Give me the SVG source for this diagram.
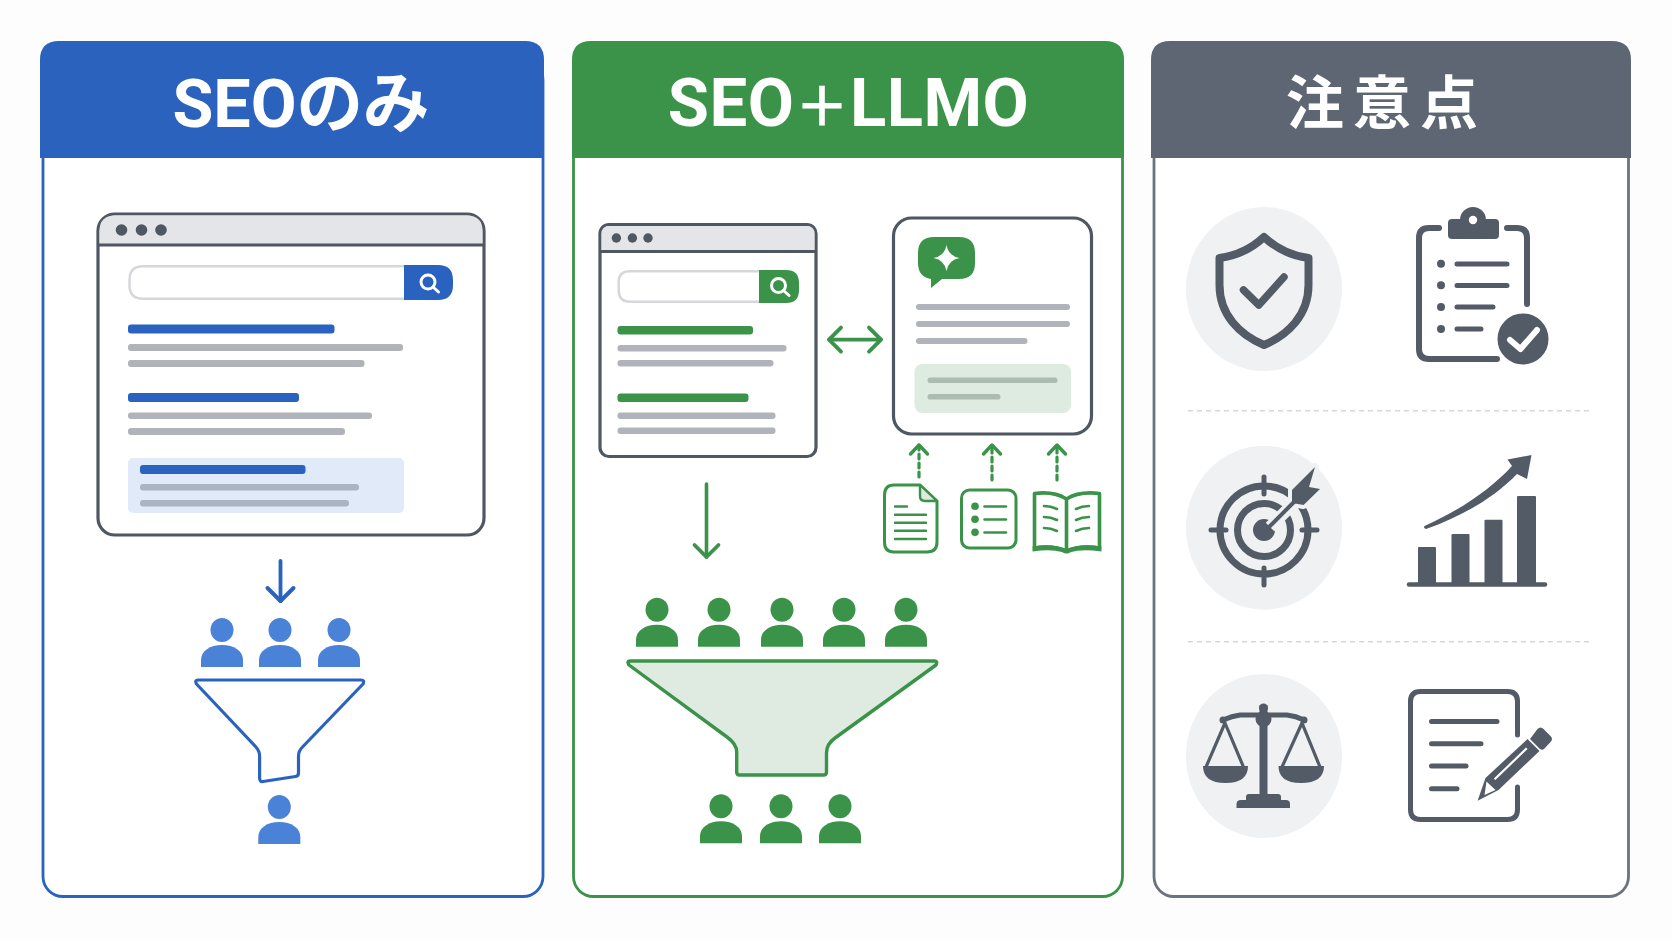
<svg xmlns="http://www.w3.org/2000/svg" xmlns:xlink="http://www.w3.org/1999/xlink" width="1672" height="941" viewBox="0 0 1672 941">
<style>
.title{font-family:Roboto,"Noto Sans CJK JP",sans-serif;font-weight:700;fill:#fff;text-anchor:middle}
.win{fill:#fff;stroke:#4f5762;stroke-width:3.200}
.bar{fill:#e3e5e8}
.dot{fill:#4f5762}
.g{fill:#b0b3b9}
.b{fill:#2a62c0}
.gr{fill:#3a9349}
.pb{fill:#4a82d8}
.pg{fill:#3a9349}
.sb{fill:none;stroke:#d5d7db;stroke-width:2.500}
.lens{fill:none;stroke:#fff;stroke-width:3;stroke-linecap:round}
.ico{fill:none;stroke:#3a9349;stroke-width:3;stroke-linecap:round;stroke-linejoin:round}
.d{fill:#525b66}
.ds{fill:none;stroke:#525b66;stroke-linecap:round;stroke-linejoin:round}
.bg{fill:#f0f1f3}
.sep{stroke:#d6d8db;stroke-width:1.500;stroke-dasharray:5 4;fill:none}
.conn{fill:none;stroke-linecap:round}
</style>
<defs>
<g id="person"><ellipse cx="0" cy="0" rx="11.500" ry="12"/><path d="M-21 37V30C-21 21-12 15 0 15S21 21 21 30V37Z"/></g>
<g id="lens"><circle cx="0" cy="0" r="7" class="lens"/><path d="M5 5L10.500 10" class="lens"/></g>
<marker id="hb" markerUnits="userSpaceOnUse" markerWidth="40" markerHeight="40" refX="20" refY="20" orient="auto-start-reverse" viewBox="0 0 40 40"><path d="M7 7L20 20L7 33" fill="none" stroke="#2a62c0" stroke-width="4" stroke-linecap="round" stroke-linejoin="round"/></marker>
<marker id="hg" markerUnits="userSpaceOnUse" markerWidth="40" markerHeight="40" refX="20" refY="20" orient="auto-start-reverse" viewBox="0 0 40 40"><path d="M8 8L20 20L8 32" fill="none" stroke="#3a9349" stroke-width="3.800" stroke-linecap="round" stroke-linejoin="round"/></marker>
<marker id="hs" markerUnits="userSpaceOnUse" markerWidth="40" markerHeight="40" refX="20" refY="20" orient="auto-start-reverse" viewBox="0 0 40 40"><path d="M11 11.500L20 20L11 28.500" fill="none" stroke="#3a9349" stroke-width="3.400" stroke-linecap="round" stroke-linejoin="round"/></marker>
</defs>
<rect width="1672" height="941" fill="#fdfdfd"/>

<g id="panel-seo">
<rect x="43" y="60" width="500" height="836.500" rx="20" fill="#fff" stroke="#2a62c0" stroke-width="2.800"/>
<path d="M40 158V60Q40 41 59 41H525Q544 41 544 60V158Z" fill="#2b62be"/>
<text class="title" x="301" y="127" font-size="66.500">SEOのみ</text>
</g>
<g id="browser-seo">
<rect class="win" x="98" y="214" width="386" height="321" rx="17"/>
<path class="bar" d="M99.500 244V231Q99.500 215.500 115 215.500H467Q482.500 215.500 482.500 231V244Z"/>
<path d="M98 245H484" stroke="#4f5762" stroke-width="3.200"/>
<circle class="dot" cx="121.500" cy="230" r="5.800"/><circle class="dot" cx="141.500" cy="230" r="5.800"/><circle class="dot" cx="161" cy="230" r="5.800"/>
<path class="sb" d="M405 266.300H143Q129.500 266.300 129.500 280V285Q129.500 298.800 143 298.800H405"/>
<path class="b" d="M404 265H438Q453 265 453 280V285Q453 300 438 300H404Z"/>
<use href="#lens" x="428" y="282"/>
<rect class="b" x="128" y="324.500" width="206.500" height="9" rx="3"/>
<rect class="g" x="128" y="344" width="275" height="7" rx="3"/>
<rect class="g" x="128" y="360" width="236.500" height="7" rx="3"/>
<rect class="b" x="128" y="393" width="171" height="9" rx="3"/>
<rect class="g" x="128" y="412.500" width="244" height="6.500" rx="3"/>
<rect class="g" x="128" y="428" width="217" height="7" rx="3"/>
<rect x="128" y="458" width="276" height="55" rx="5" fill="#e1eaf8"/>
<rect class="b" x="140" y="465" width="165.500" height="9" rx="3"/>
<rect x="140" y="484" width="219" height="6.500" rx="3" fill="#abb4c2"/>
<rect x="140" y="500" width="209" height="6.500" rx="3" fill="#abb4c2"/>
</g>
<g id="people-seo-top" class="pb"><use href="#person" x="222" y="630"/><use href="#person" x="280" y="630"/><use href="#person" x="339" y="630"/></g>
<g id="funnel-seo"><path d="M198 680H361Q365 680 363 684L302.500 747Q298.500 751 298.500 756V773Q298.500 776 295.500 776.500L263 781.500Q259.600 782 259.600 778V756Q259.600 751 255.500 746.500L196.500 684Q194.500 680 198 680Z" fill="#fff" stroke="#2a62c0" stroke-width="3.200" stroke-linejoin="round"/></g>
<g id="person-seo-bottom" class="pb"><use href="#person" x="279.300" y="807"/></g>

<g id="panel-llmo">
<rect x="573.500" y="60" width="549" height="836.500" rx="20" fill="#fff" stroke="#3a9349" stroke-width="2.800"/>
<path d="M572 158V60Q572 41 591 41H1105Q1124 41 1124 60V158Z" fill="#3a9349"/>
<text class="title" x="848.500" y="126" font-size="67" letter-spacing="0.500">SEO<tspan font-size="55">＋</tspan>LLMO</text>
</g>
<g id="browser-llmo">
<rect class="win" x="600" y="224.500" width="216" height="232" rx="9"/>
<path class="bar" d="M601.500 250.500V234Q601.500 226 609.500 226H806.500Q814.500 226 814.500 234V250.500Z"/>
<path d="M600 251.500H816" stroke="#4f5762" stroke-width="3.200"/>
<circle class="dot" cx="616.400" cy="238" r="4.700"/><circle class="dot" cx="632.400" cy="238" r="4.700"/><circle class="dot" cx="648" cy="238" r="4.700"/>
<path class="sb" d="M760 271.300H630Q618.700 271.300 618.700 282V290Q618.700 301.700 630 301.700H760"/>
<path class="gr" d="M759 270H786Q799 270 799 283V290Q799 303 786 303H759Z"/>
<use href="#lens" x="778.500" y="285.500"/>
<rect class="gr" x="617.500" y="326" width="135.500" height="8.500" rx="3"/>
<rect class="g" x="617.500" y="345" width="169" height="6.500" rx="3"/>
<rect class="g" x="617.500" y="360" width="156" height="6.500" rx="3"/>
<rect class="gr" x="617.500" y="393.500" width="131" height="8.500" rx="3"/>
<rect class="g" x="617.500" y="412.500" width="158" height="6.500" rx="3"/>
<rect class="g" x="617.500" y="427.500" width="158" height="6.500" rx="3"/>
</g>
<g id="ai-card">
<rect class="win" x="893.500" y="218" width="198" height="216" rx="18"/>
<path class="gr" d="M934 237H959Q975 237 975 253V263Q975 279 959 279H942L931 288L931 279Q918 277 918 263V253Q918 237 934 237Z"/>
<path d="M946.500 245Q948.500 256 959.500 258Q948.500 260 946.500 271Q944.500 260 933.500 258Q944.500 256 946.500 245Z" fill="#fff"/>
<rect class="g" x="916" y="304" width="154" height="6" rx="3"/>
<rect class="g" x="916" y="321" width="154" height="6" rx="3"/>
<rect class="g" x="916" y="338" width="111.500" height="6" rx="3"/>
<rect x="914.500" y="364" width="156.500" height="49" rx="8" fill="#deebe0"/>
<rect x="927.500" y="377.500" width="130" height="5.600" rx="2.800" fill="#adbcb0"/>
<rect x="927.500" y="394" width="73" height="5.600" rx="2.800" fill="#adbcb0"/>
</g>
<g id="icon-doc">
<path class="ico" d="M894 485H920L937 501V542Q937 552 927 552H894Q884.500 552 884.500 542V495Q884.500 485 894 485Z"/>
<path d="M920 485L937 501H925Q920 501 920 496Z" fill="#dfe9e0" stroke="#3a9349" stroke-width="2.400" stroke-linejoin="round"/>
<path class="ico" style="stroke-width:2.400" d="M895 506.500H907M895 514.700H926M895 522.700H926M895 530.700H926M895 539H926"/>
</g>
<g id="icon-list">
<rect class="ico" x="961.500" y="490" width="54.500" height="58" rx="8"/>
<circle class="gr" cx="975" cy="506.300" r="3.800"/><circle class="gr" cx="975" cy="519.300" r="3.800"/><circle class="gr" cx="975" cy="532.300" r="3.800"/>
<path class="ico" style="stroke-width:2.600" d="M984.500 506.500H1006M984.500 519.500H1006M984.500 532.500H1006"/>
</g>
<g id="icon-book">
<path class="ico" style="stroke-width:3.600" d="M1066.500 499Q1054 491 1034.500 493.500V548Q1054 545 1066.500 551Q1079 545 1099.500 548V493.500Q1079 491 1066.500 499V549"/>
<path d="M1032.500 546.500Q1054 543 1066.500 550Q1079 543 1101.500 546.500V551.500Q1082 549 1071 552Q1066.500 555 1062 552Q1051 549 1032.500 551.500Z" class="gr"/>
<path class="ico" style="stroke-width:2.600" d="M1044 506Q1051 506 1057 509M1044 517Q1051 517 1057 520M1044 528Q1051 528 1057 531M1089 506Q1082 506 1076 509M1089 517Q1082 517 1076 520M1089 528Q1082 528 1076 531"/>
</g>
<g id="people-llmo-top" class="pg"><use href="#person" x="657" y="609.700"/><use href="#person" x="719" y="609.700"/><use href="#person" x="782" y="609.700"/><use href="#person" x="844" y="609.700"/><use href="#person" x="906" y="609.700"/></g>
<g id="funnel-llmo"><path d="M630 661H934.500Q938 661 936 665L835 738Q826.500 744 826.500 753V772Q826.500 775 823.500 775H739.500Q736.700 775 736.700 772V752Q736.700 744 727 737L629 665Q626.500 661 630 661Z" fill="#dfebe1" stroke="#3a9349" stroke-width="3.400" stroke-linejoin="round"/></g>
<g id="people-llmo-bottom" class="pg"><use href="#person" x="721" y="806.300"/><use href="#person" x="781" y="806.300"/><use href="#person" x="840" y="806.300"/></g>

<g id="panel-notes">
<rect x="1154" y="60" width="474.500" height="836.500" rx="20" fill="#fff" stroke="#6a7380" stroke-width="2.800"/>
<path d="M1151 158V60Q1151 41 1170 41H1612Q1631 41 1631 60V158Z" fill="#5d6672"/>
<text x="1286" y="123.500" font-size="58" font-family="'Noto Sans CJK JP',sans-serif" font-weight="700" fill="#fff" letter-spacing="9">注意点</text>
<path class="sep" d="M1188 410.700H1592M1188 641.700H1592"/>
</g>
<g id="icon-shield">
<ellipse class="bg" cx="1264" cy="289" rx="78" ry="82"/>
<path class="ds" stroke-width="8" d="M1264 237C1250 250 1235 256 1219.500 258V285C1219.500 315 1240 335 1264 345C1288 335 1308.500 315 1308.500 285V258C1293 256 1278 250 1264 237Z"/>
<path class="ds" stroke-width="7.500" d="M1243.500 290L1258.800 305L1284 277"/>
</g>
<g id="icon-clipboard">
<path class="ds" stroke-width="6" stroke-linecap="butt" d="M1439 228H1429Q1419 228 1419 238V349Q1419 359 1429 359H1497M1507 228H1517Q1527 228 1527 238V304"/>
<rect class="d" x="1448" y="219" width="51" height="20" rx="4"/>
<circle class="d" cx="1473" cy="220" r="13"/><circle cx="1473" cy="220" r="4.200" fill="#fff"/>
<circle class="d" cx="1441" cy="263.700" r="4"/><circle class="d" cx="1441" cy="285.300" r="4"/><circle class="d" cx="1441" cy="307" r="4"/><circle class="d" cx="1441" cy="329" r="4"/>
<path class="ds" stroke-width="5" d="M1457 264H1507M1457 285.500H1507M1457 307H1493M1457 329H1481"/>
<circle class="d" cx="1523" cy="339" r="26.500" stroke="#fff" stroke-width="2"/>
<path d="M1510 340L1520.500 349L1537 330" fill="none" stroke="#fff" stroke-width="6" stroke-linecap="round" stroke-linejoin="round"/>
</g>
<g id="icon-target">
<ellipse class="bg" cx="1264" cy="527.700" rx="78" ry="82"/>
<circle class="ds" cx="1264" cy="530" r="44" stroke-width="7"/>
<circle class="ds" cx="1264" cy="530" r="26.500" stroke-width="7"/>
<circle class="d" cx="1264" cy="530" r="11"/>
<path class="ds" stroke-width="5" d="M1264 477V494M1264 568V585M1211 530H1226M1302 530H1317"/>
<path d="M1270 527L1304 493" fill="none" stroke="#f0f1f3" stroke-width="12"/>
<path d="M1292 490L1315 467L1309 487L1320 489L1303.600 505L1292 503Z" fill="#525b66" stroke="#f0f1f3" stroke-width="8" stroke-linejoin="round"/>
<path class="ds" stroke-width="4" stroke-linecap="butt" d="M1269 527L1303 493"/>
<path class="d" d="M1292 490L1315 467L1309 487L1320 489L1303.600 505L1292 503Z"/>
</g>
<g id="icon-chart">
<rect class="d" x="1418" y="547" width="18" height="37" rx="1"/>
<rect class="d" x="1451.500" y="534" width="18" height="50" rx="1"/>
<rect class="d" x="1484.500" y="519.700" width="18" height="64.300" rx="1"/>
<rect class="d" x="1517" y="496" width="19" height="88" rx="1"/>
<path class="ds" stroke-width="4.500" d="M1409 584.500H1545"/>
<path class="d" d="M1424.500 526Q1423 528 1426 529C1463 516 1495 497 1517 474L1527 479L1531.500 455L1507.500 459.500L1512 466C1490 490 1460 510 1424.500 526Z"/>
</g>
<g id="icon-scales">
<ellipse class="bg" cx="1264" cy="756" rx="78" ry="82"/>
<rect class="d" x="1259.500" y="705" width="8" height="92"/>
<circle class="d" cx="1263.500" cy="708" r="4.500"/><circle class="d" cx="1263.500" cy="719" r="8"/>
<path class="ds" stroke-width="5" d="M1223 720Q1232 716 1240 715H1287Q1296 716 1304 720"/>
<circle class="d" cx="1223" cy="720" r="3.500"/><circle class="d" cx="1304" cy="720" r="3.500"/>
<path class="ds" stroke-width="3.200" d="M1225 723L1206 767M1225 723L1243.500 767M1302 723L1282 767M1302 723L1320 767"/>
<path class="d" d="M1203 766H1248Q1248 783 1225.500 783Q1203 783 1203 766Z"/>
<path class="d" d="M1278.500 766H1324Q1324 783 1301 783Q1278.500 783 1278.500 766Z"/>
<path class="d" d="M1246 800V797Q1246 794 1249 794H1278Q1281 794 1281 797V800H1286Q1290 800 1290 804V808H1236.500V804Q1236.500 800 1241 800Z"/>
</g>
<g id="icon-form">
<path class="ds" stroke-width="5" stroke-linecap="butt" d="M1517.500 735V701.500Q1517.500 691.500 1507.500 691.500H1420.500Q1410.500 691.500 1410.500 701.500V809.500Q1410.500 819.500 1420.500 819.500H1507.500Q1517.500 819.500 1517.500 809.500V787"/>
<path class="ds" stroke-width="5" d="M1431.500 721.500H1497M1431.500 743.700H1481M1431.500 766H1466M1431.500 788.700H1457"/>
<path class="d" d="M1477.600 800.700L1485.500 778L1527.500 739L1539.500 751L1498.500 790Z"/>
<path class="d" d="M1536 731L1537.500 729Q1540.500 726 1543.500 729L1550.500 736Q1553.500 739 1550.500 742L1544 749Q1542 750.500 1540 749L1530 739Z"/>
<path d="M1494.600 779.300L1526.800 748.300" stroke="#fff" stroke-width="2.200" fill="none"/>
<path d="M1486.500 781.500L1495.500 790L1484.500 795Z" fill="#fff"/>
</g>

<g id="connectors">
<path class="conn" d="M280.500 561V601" stroke="#2a62c0" stroke-width="3.800" marker-end="url(#hb)"/>
<path class="conn" d="M706.500 484V557" stroke="#3a9349" stroke-width="3.600" marker-end="url(#hg)"/>
<path class="conn" d="M829 339.600H881" stroke="#3a9349" stroke-width="3.600" marker-start="url(#hg)" marker-end="url(#hg)"/>
<path class="conn" d="M919 477V445" stroke="#3a9349" stroke-width="3.200" stroke-dasharray="5 4" stroke-linecap="butt" marker-end="url(#hs)"/>
<path class="conn" d="M992 480V445" stroke="#3a9349" stroke-width="3.200" stroke-dasharray="5 4" stroke-linecap="butt" marker-end="url(#hs)"/>
<path class="conn" d="M1057 480V445" stroke="#3a9349" stroke-width="3.200" stroke-dasharray="5 4" stroke-linecap="butt" marker-end="url(#hs)"/>
</g>
</svg>
